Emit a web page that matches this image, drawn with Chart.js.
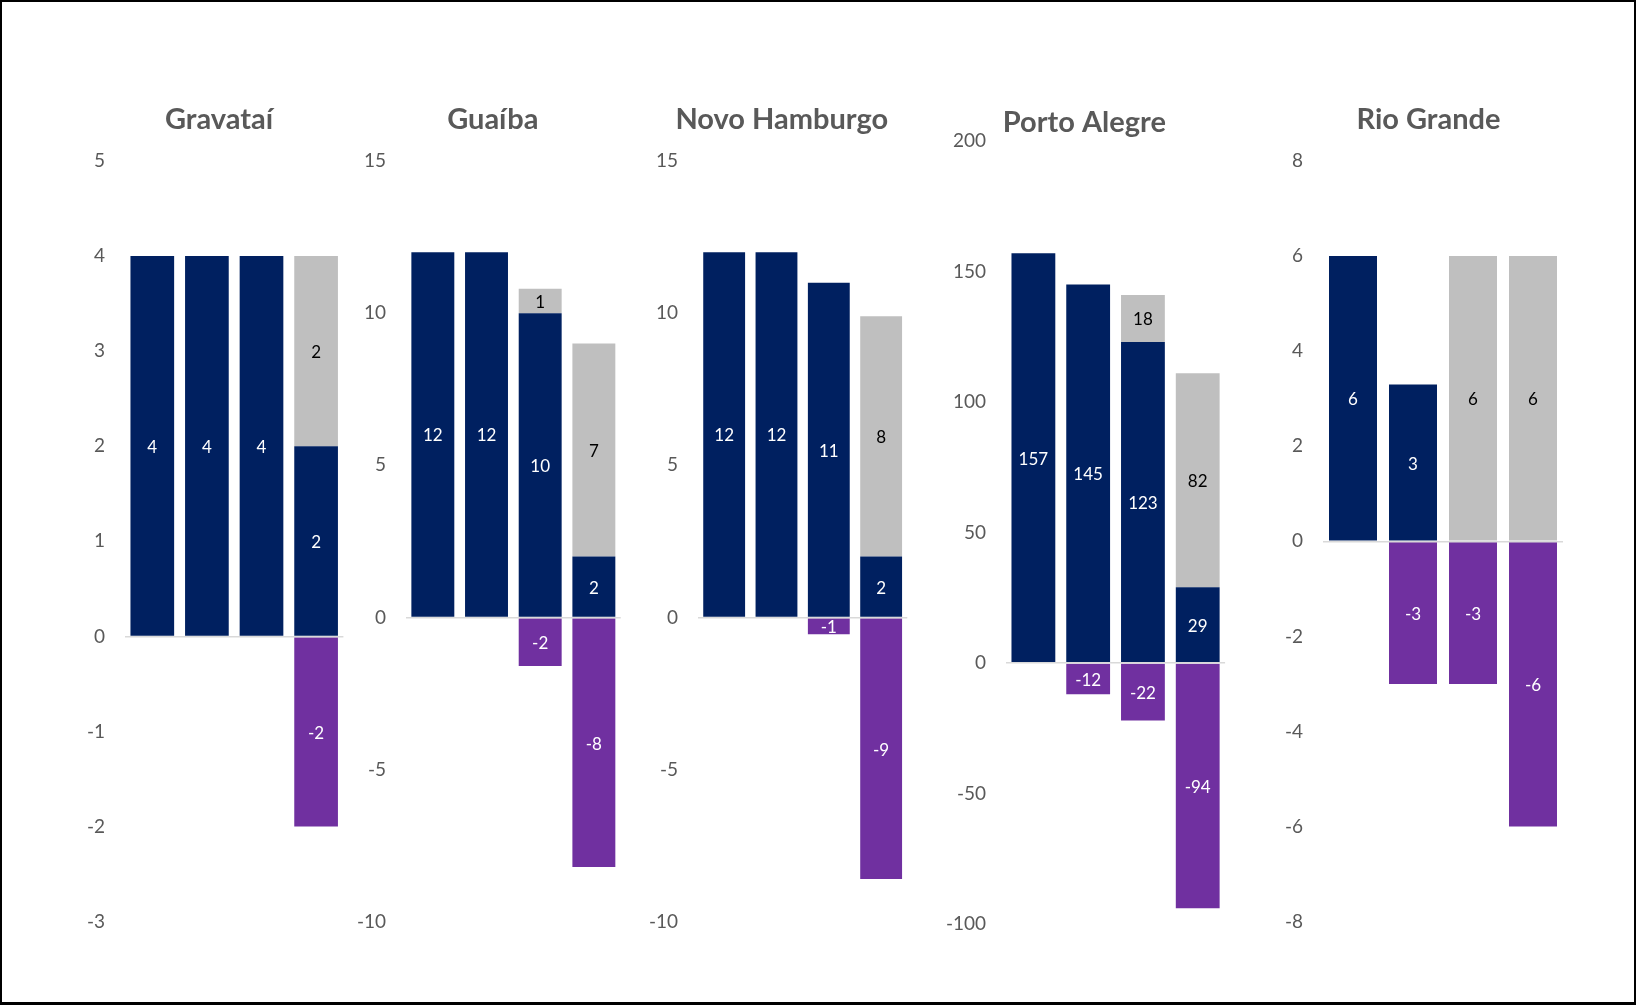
<!DOCTYPE html>
<html>
<head>
<meta charset="utf-8">
<script src="https://cdn.jsdelivr.net/npm/chart.js@4.4.0/dist/chart.umd.min.js"></script>
<style>
html, body { margin: 0; padding: 0; background: #fff; }
#frame { position: relative; width: 1636px; height: 1005px; box-sizing: border-box;
         border: 2px solid #000; border-bottom-width: 3px; background: #fff; overflow: hidden; }
#frame canvas { position: absolute; top: 0; }
</style>
</head>
<body>
<div id="frame">
  <canvas id="c0"></canvas>
  <canvas id="c1"></canvas>
  <canvas id="c2"></canvas>
  <canvas id="c3"></canvas>
  <canvas id="c4"></canvas>
</div>
<script>
// ---- data ----
const categories = ['1', '2', '3', '4'];
const cities = ['Gravataí', 'Guaíba', 'Novo Hamburgo', 'Porto Alegre', 'Rio Grande'];

const gravataiNavy   = [4, 4, 4, 2];
const gravataiGrey   = [0, 0, 0, 2];
const gravataiPurple = [0, 0, 0, -2];

const guaibaNavy   = [12, 12, 10, 2];
const guaibaGrey   = [0, 0, 0.8, 7];
const guaibaPurple = [0, 0, -1.6, -8.2];

const novoHamburgoNavy   = [12, 12, 11, 2];
const novoHamburgoGrey   = [0, 0, 0, 7.9];
const novoHamburgoPurple = [0, 0, -0.55, -8.6];

const portoAlegreNavy   = [157, 145, 123, 29];
const portoAlegreGrey   = [0, 0, 18, 82];
const portoAlegrePurple = [0, -12, -22, -94];

const rioGrandeNavy   = [6, 3.3, 0, 0];
const rioGrandeGrey   = [0, 0, 6, 6];
const rioGrandePurple = [0, -3, -3, -6];

const axisMin  = [-3, -10, -10, -100, -8];
const axisMax  = [5, 15, 15, 200, 8];
const axisStep = [1, 5, 5, 50, 2];

const seriesNavy   = [gravataiNavy, guaibaNavy, novoHamburgoNavy, portoAlegreNavy, rioGrandeNavy];
const seriesGrey   = [gravataiGrey, guaibaGrey, novoHamburgoGrey, portoAlegreGrey, rioGrandeGrey];
const seriesPurple = [gravataiPurple, guaibaPurple, novoHamburgoPurple, portoAlegrePurple, rioGrandePurple];

// ---- layout (page pixels) ----
const panels = [
  { plotL: 124.9,  plotR: 343.3,  top: 161, bottom: 921.7, titleX: 219,    titleY: 120 },
  { plotL: 406.2,  plotR: 620.9,  top: 161, bottom: 921.7, titleX: 493,    titleY: 120 },
  { plotL: 697.7,  plotR: 907.0,  top: 161, bottom: 921.7, titleX: 781.5,  titleY: 120 },
  { plotL: 1005.6, plotR: 1224.7, top: 141, bottom: 924.0, titleX: 1084,   titleY: 123 },
  { plotL: 1323.0, plotR: 1563.0, top: 161, bottom: 921.7, titleX: 1428.5, titleY: 120 }
];
const axisW = 70;
const padR = 10;
const canvasTop = 2;
const canvasH = 1000;

const NAVY = '#002060', GREY = '#BFBFBF', PURPLE = '#7030A0';
const TEXT = '#595959';

const valueLabels = {
  id: 'valueLabels',
  afterDatasetsDraw(chart) {
    const ctx = chart.ctx;
    ctx.save();
    ctx.font = '17px Lato';
    ctx.textAlign = 'center';
    ctx.textBaseline = 'middle';
    chart.data.datasets.forEach((ds, i) => {
      const meta = chart.getDatasetMeta(i);
      meta.data.forEach((el, j) => {
        const v = ds.data[j];
        if (!v) return;
        const c = el.getCenterPoint();
        ctx.fillStyle = ds.labelColor;
        ctx.fillText(String(Math.round(v)), c.x, c.y + 1.5);
      });
    });
    ctx.restore();
  }
};

const panelTitle = {
  id: 'panelTitle',
  afterDraw(chart, args, opts) {
    const ctx = chart.ctx;
    ctx.save();
    ctx.font = 'bold 29px Lato';
    ctx.fillStyle = TEXT;
    ctx.textAlign = 'center';
    ctx.textBaseline = 'middle';
    ctx.fillText(opts.text, opts.x, opts.y);
    ctx.restore();
  }
};

panels.forEach((p, i) => {
  const left = p.plotL - axisW;
  const width = Math.ceil(p.plotR + padR - left);
  const cv = document.getElementById('c' + i);
  cv.width = width;
  cv.height = canvasH;
  cv.style.width = width + 'px';
  cv.style.height = canvasH + 'px';
  cv.style.left = (left - 2) + 'px';

  new Chart(cv, {
    type: 'bar',
    data: {
      labels: categories,
      datasets: [
        { data: seriesNavy[i],   backgroundColor: NAVY,   labelColor: '#FFFFFF' },
        { data: seriesGrey[i],   backgroundColor: GREY,   labelColor: '#000000' },
        { data: seriesPurple[i], backgroundColor: PURPLE, labelColor: '#FFFFFF' }
      ]
    },
    options: {
      responsive: false,
      animation: false,
      events: [],
      layout: { padding: { left: 0, right: width - (p.plotR - left), top: p.top - canvasTop, bottom: canvasTop + canvasH - p.bottom } },
      datasets: { bar: { barPercentage: 0.8, categoryPercentage: 1.0, borderWidth: 0 } },
      plugins: {
        legend: { display: false },
        tooltip: { enabled: false },
        title: { display: false },
        panelTitle: { text: cities[i], x: p.titleX - left, y: p.titleY - canvasTop }
      },
      scales: {
        x: { stacked: true, display: false },
        y: {
          stacked: true,
          min: axisMin[i],
          max: axisMax[i],
          border: { display: false },
          grid: {
            z: 1,
            drawTicks: false,
            lineWidth: 1.5,
            color: (ctx) => (ctx.tick && ctx.tick.value === 0) ? '#D9D9D9' : 'rgba(0,0,0,0)'
          },
          ticks: {
            stepSize: axisStep[i],
            padding: 20,
            color: TEXT,
            font: { family: 'Lato', size: 19 }
          },
          afterFit: (scale) => { scale.width = axisW; }
        }
      }
    },
    plugins: [valueLabels, panelTitle]
  });
});
</script>
</body>
</html>
